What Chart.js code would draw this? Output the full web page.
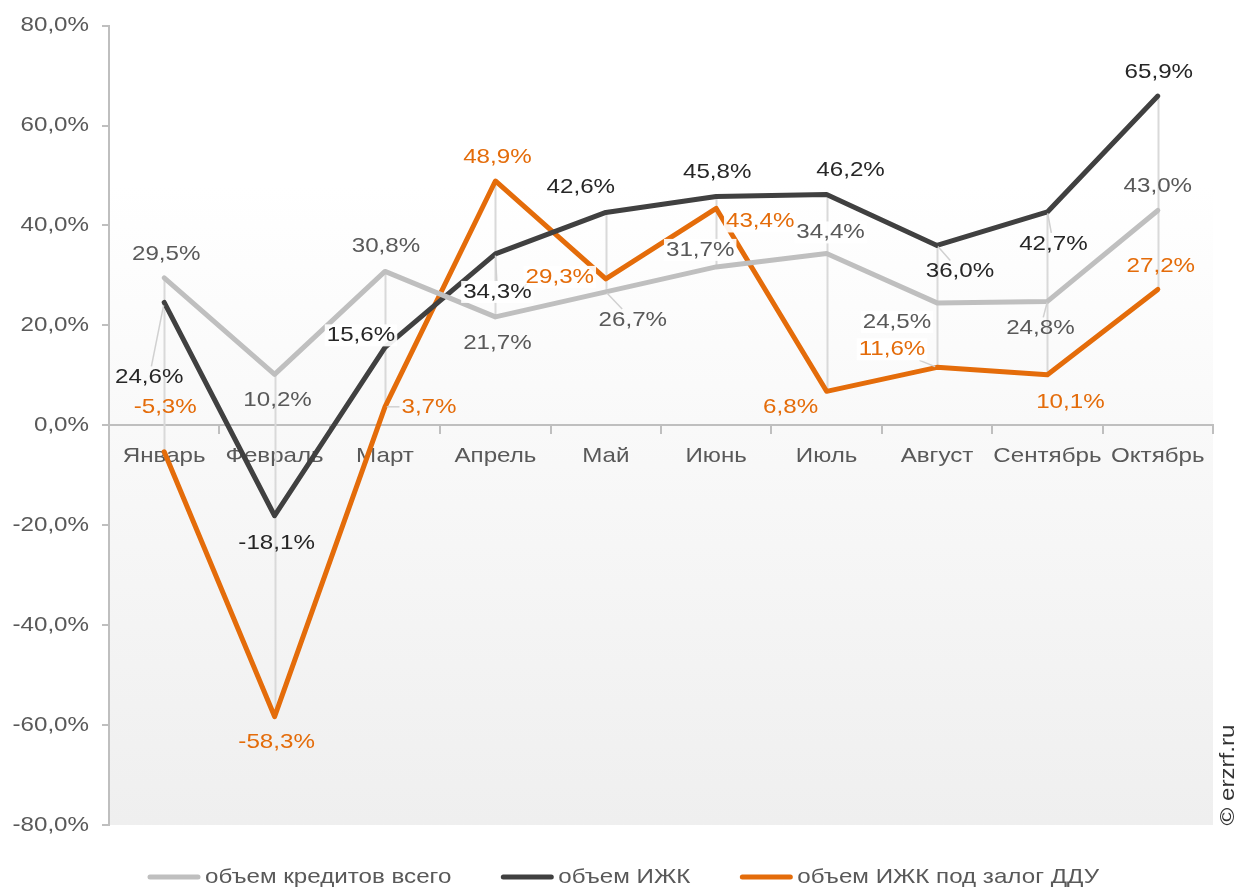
<!DOCTYPE html>
<html><head><meta charset="utf-8">
<script src="https://cdn.jsdelivr.net/npm/chart.js@4.4.1/dist/chart.umd.min.js"></script>
<style>html,body{margin:0;padding:0;background:#fff;} canvas{display:block;}</style>
</head><body>
<canvas id="c" width="1238" height="888"></canvas>
<script>
// ---- data ----
const categories = ['Январь','Февраль','Март','Апрель','Май','Июнь','Июль','Август','Сентябрь','Октябрь'];
const seriesNames = ['объем кредитов всего','объем ИЖК','объем ИЖК под залог ДДУ'];
const totalCredit = [29.5,10.2,30.8,21.7,26.7,31.7,34.4,24.5,24.8,43.0];
const izhk = [24.6,-18.1,15.6,34.3,42.6,45.8,46.2,36.0,42.7,65.9];
const izhkDdu = [-5.3,-58.3,3.7,48.9,29.3,43.4,6.8,11.6,10.1,27.2];
const yMin = -80, yMax = 80, yStep = 20;
const copyrightText = '© erzrf.ru';

// ---- styles ----
const lineColors = ['#bfbfbf','#404040','#e46c0a'];
const labelColors = ['#595959','#262626','#e46c0a'];
const labelOffsets = [
  [[2,-24],[3,26],[1,-25],[2,26],[27,28],[-16,-17],[4,-21],[-40,19],[-7,27],[0,-24]],
  [[-15,75],[2,27],[-24,-12],[2,38],[-25,-25],[1,-24],[24,-24],[23,26],[6,32],[1,-24]],
  [[1,-45],[2,26],[44,0],[2,-24],[-46,-2],[44,13],[-36,16],[-45,-18],[23,27],[3,-23]]
];
const leaderIdx = [[4,8],[0,3,7,8],[2,7]];
const boxIdx = [[5,6,7],[2,3],[4,5,7]];
const FONT = "'Liberation Sans', Arial, sans-serif";
const FS = 21;
const TEXT_SX = 1.15;

const fmt = v => v.toFixed(1).replace('.', ',') + '%';

const canvas = document.getElementById('c');
const ctx0 = canvas.getContext('2d');
const _fill = ctx0.fillText;
ctx0.fillText = function (t, x, y) {
  this.save();
  this.translate(x, y);
  this.scale(TEXT_SX, 1);
  _fill.call(this, t, 0, 0);
  this.restore();
};

const bgPlugin = {
  id: 'bg',
  beforeDraw(chart) {
    const {ctx, chartArea: a} = chart;
    const g = ctx.createLinearGradient(0, a.top, 0, a.bottom);
    g.addColorStop(0, '#ffffff');
    g.addColorStop(0.2, '#ffffff');
    g.addColorStop(1, '#efefef');
    ctx.save();
    ctx.fillStyle = g;
    ctx.fillRect(a.left, a.top, a.right - a.left, a.bottom - a.top);
    ctx.restore();
  }
};

const hiLoPlugin = {
  id: 'hilo',
  beforeDatasetsDraw(chart) {
    const {ctx, scales: {x, y}} = chart;
    const ds = chart.data.datasets;
    ctx.save();
    ctx.strokeStyle = '#d9d9d9';
    ctx.lineWidth = 2;
    for (let i = 0; i < categories.length; i++) {
      const vals = ds.map(d => d.data[i]);
      const px = Math.round(x.getPixelForValue(i)) + 0.5;
      ctx.beginPath();
      ctx.moveTo(px, y.getPixelForValue(Math.max(...vals)));
      ctx.lineTo(px, y.getPixelForValue(Math.min(...vals)));
      ctx.stroke();
    }
    ctx.restore();
  }
};

const labelPlugin = {
  id: 'vlabels',
  afterDatasetsDraw(chart) {
    const {ctx} = chart;
    ctx.save();
    ctx.font = FS + 'px ' + FONT;
    ctx.textAlign = 'center';
    ctx.textBaseline = 'middle';
    chart.data.datasets.forEach((d, si) => {
      const meta = chart.getDatasetMeta(si);
      meta.data.forEach((pt, i) => {
        const [dx, dy] = labelOffsets[si][i];
        const cx = pt.x + dx, cy = pt.y + dy;
        const txt = fmt(d.data[i]);
        const w = ctx.measureText(txt).width * TEXT_SX + 4, h = 22;
        if (leaderIdx[si].includes(i)) {
          const vx = cx - pt.x, vy = cy - pt.y;
          const tt = Math.max(Math.abs(vx) > w/2 ? Math.abs((Math.abs(vx) - w/2)/vx) : 0,
                              Math.abs(vy) > h/2 ? Math.abs((Math.abs(vy) - h/2)/vy) : 0);
          ctx.strokeStyle = '#d0d0d0';
          ctx.lineWidth = 1.5;
          ctx.beginPath();
          ctx.moveTo(pt.x + vx * 0.04, pt.y + vy * 0.04);
          ctx.lineTo(pt.x + vx * tt, pt.y + vy * tt);
          ctx.stroke();
        }
        if (boxIdx[si].includes(i)) {
          ctx.fillStyle = 'rgba(255,255,255,0.92)';
          ctx.fillRect(cx - w / 2, cy - h / 2, w, h);
        }
        ctx.fillStyle = labelColors[si];
        ctx.fillText(txt, cx, cy);
      });
    });
    ctx.restore();
  }
};

const legendPlugin = {
  id: 'customLegend',
  afterDraw(chart) {
    const {ctx} = chart;
    ctx.save();
    ctx.font = FS + 'px ' + FONT;
    ctx.textBaseline = 'middle';
    ctx.textAlign = 'left';
    const yL = 877;
    let x = 150;
    chart.data.datasets.forEach((d) => {
      ctx.strokeStyle = d.borderColor;
      ctx.lineWidth = 5;
      ctx.lineCap = 'round';
      ctx.beginPath();
      ctx.moveTo(x, yL);
      ctx.lineTo(x + 48, yL);
      ctx.stroke();
      ctx.fillStyle = '#595959';
      ctx.fillText(d.label, x + 55, yL);
      x += 55 + ctx.measureText(d.label).width * TEXT_SX + 52;
    });
    ctx.translate(1228, 775);
    ctx.rotate(-Math.PI / 2);
    ctx.textAlign = 'center';
    ctx.fillStyle = '#333333';
    ctx.fillText(copyrightText, 0, 0);
    ctx.restore();
  }
};

const seriesData = [totalCredit, izhk, izhkDdu];
new Chart(canvas, {
  type: 'line',
  data: {
    labels: categories,
    datasets: seriesData.map((arr, i) => ({
      label: seriesNames[i],
      data: arr,
      borderColor: lineColors[i],
      backgroundColor: lineColors[i],
      borderWidth: 5,
      pointRadius: 0,
      tension: 0,
      borderCapStyle: 'round',
      borderJoinStyle: 'round',
      fill: false
    }))
  },
  options: {
    responsive: false,
    animation: false,
    layout: { padding: { top: 25, right: 25, bottom: 63, left: 0 } },
    plugins: { legend: { display: false }, tooltip: { enabled: false } },
    scales: {
      x: {
        position: { y: 0 },
        offset: true,
        grid: { drawOnChartArea: false, drawTicks: true, tickLength: 8, offset: true, color: '#bfbfbf', lineWidth: 2 },
        border: { color: '#bfbfbf', width: 2 },
        ticks: { color: '#595959', font: { family: FONT, size: FS }, padding: 10, maxRotation: 0, autoSkip: false }
      },
      y: {
        min: yMin, max: yMax,
        afterFit(s) { s.width = 109; },
        grid: { drawOnChartArea: false, drawTicks: true, tickLength: 7, color: '#bfbfbf', lineWidth: 2 },
        border: { color: '#bfbfbf', width: 2 },
        ticks: { stepSize: yStep, color: '#595959', font: { family: FONT, size: FS }, padding: 13, callback: v => fmt(v) }
      }
    }
  },
  plugins: [bgPlugin, hiLoPlugin, labelPlugin, legendPlugin]
});
</script>
</body></html>
